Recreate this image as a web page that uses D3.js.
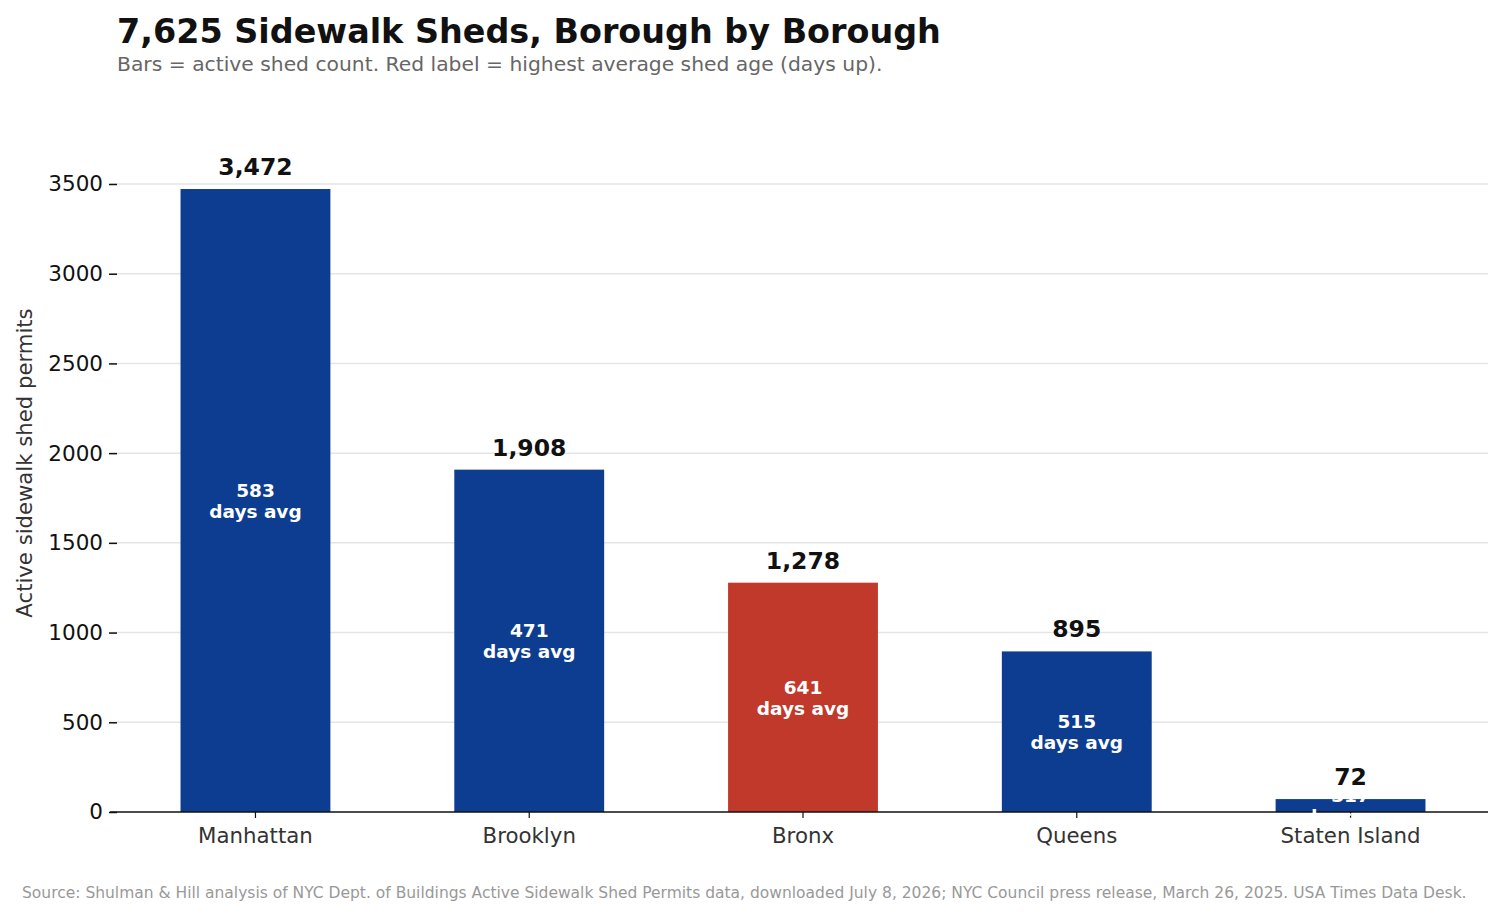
<!DOCTYPE html>
<html><head><meta charset="utf-8">
<script src="https://cdn.jsdelivr.net/npm/d3@7"></script>
<style>body{margin:0;background:#fff;} svg{display:block;font-family:"DejaVu Sans",sans-serif;}</style>
</head><body>
<script>
const boroughs = ["Manhattan","Brooklyn","Bronx","Queens","Staten Island"];
const shedCounts = [3472,1908,1278,895,72];
const avgDays = [583,471,641,515,317];
const yTicks = [0,500,1000,1500,2000,2500,3000,3500];
const highlight = "Bronx";

const W=1503,H=917;
const svg=d3.select("body").append("svg").attr("width",W).attr("height",H);
const left=110,right=1488,bottom=812;
const y=d3.scaleLinear().domain([0,3500]).range([bottom,184]);
const x=d3.scaleBand().domain(boroughs).range([left+4,right+4]).paddingInner(0.4526).paddingOuter(0.243);

// grid
svg.append("g").selectAll("line").data(yTicks.filter(d=>d>0)).join("line")
 .attr("x1",left).attr("x2",right).attr("y1",d=>y(d)).attr("y2",d=>y(d))
 .attr("stroke","#e5e5e5").attr("stroke-width",1.5);

// y axis
const ya=svg.append("g").attr("transform",`translate(${left+7},0)`)
 .call(d3.axisLeft(y).tickValues(yTicks).tickSize(8).tickPadding(6).tickFormat(d3.format("d")));
ya.select(".domain").remove();
ya.selectAll("text").attr("font-size",21.5).attr("fill","#111").attr("font-family","DejaVu Sans");
ya.selectAll("line").attr("stroke","#111").attr("stroke-width",1.5);

// bars
svg.append("g").selectAll("rect").data(boroughs).join("rect")
 .attr("x",d=>x(d)).attr("width",x.bandwidth())
 .attr("y",(d,i)=>y(shedCounts[i])).attr("height",(d,i)=>bottom-y(shedCounts[i]))
 .attr("fill",d=>d===highlight?"#c0392b":"#0c3d91");

// x axis
const xa=svg.append("g").attr("transform",`translate(0,${bottom})`)
 .call(d3.axisBottom(x).tickSize(6).tickPadding(10));
xa.select(".domain").attr("d",`M${left},0H${right}`).attr("stroke","#111").attr("stroke-width",1.5);
xa.selectAll("line").attr("stroke","#111").attr("stroke-width",1.2);
xa.selectAll("text").attr("font-size",21.3).attr("fill","#333").attr("font-family","DejaVu Sans");

// value labels
svg.append("g").selectAll("text").data(boroughs).join("text")
 .attr("x",d=>x(d)+x.bandwidth()/2).attr("y",(d,i)=>y(shedCounts[i])-14)
 .attr("text-anchor","middle").attr("font-size",23.5).attr("font-weight","bold").attr("fill","#111")
 .text((d,i)=>d3.format(",")(shedCounts[i]));

// inner labels
const inner=svg.append("g").selectAll("text").data(boroughs).join("text")
 .attr("text-anchor","middle").attr("font-size",18.5).attr("font-weight","bold").attr("fill","#fff")
 .attr("x",d=>x(d)+x.bandwidth()/2)
 .attr("y",(d,i)=>(y(shedCounts[i])+bottom)/2);
inner.append("tspan").attr("x",d=>x(d)+x.bandwidth()/2).attr("dy","-0.2em").text((d,i)=>avgDays[i]);
inner.append("tspan").attr("x",d=>x(d)+x.bandwidth()/2).attr("dy","1.15em").text("days avg");

// y label
svg.append("text").attr("transform","translate(32,463) rotate(-90)").attr("text-anchor","middle")
 .attr("font-size",21.2).attr("fill","#333").text("Active sidewalk shed permits");

// titles
svg.append("text").attr("x",117).attr("y",43).attr("font-size",33.4).attr("font-weight","bold").attr("fill","#111")
 .text("7,625 Sidewalk Sheds, Borough by Borough");
svg.append("text").attr("x",117).attr("y",71).attr("font-size",20.3).attr("fill","#666")
 .text("Bars = active shed count. Red label = highest average shed age (days up).");
svg.append("text").attr("x",22).attr("y",898).attr("font-size",15.5).attr("fill","#999")
 .text("Source: Shulman & Hill analysis of NYC Dept. of Buildings Active Sidewalk Shed Permits data, downloaded July 8, 2026; NYC Council press release, March 26, 2025. USA Times Data Desk.");
</script>
</body></html>
